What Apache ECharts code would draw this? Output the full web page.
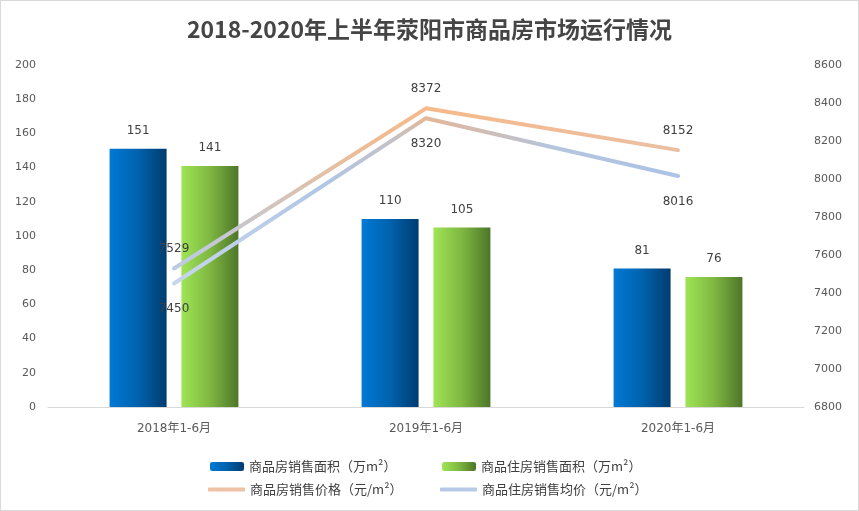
<!DOCTYPE html>
<html><head><meta charset="utf-8">
<script src="https://cdn.jsdelivr.net/npm/echarts@6/dist/echarts.min.js"></script>
<style>html,body{margin:0;padding:0;background:#fff}#c{width:859px;height:511px;box-sizing:border-box;border:1px solid #d9d9d9}</style>
</head><body><div id="c"></div>
<script>
var categories = ['2018年1-6月', '2019年1-6月', '2020年1-6月'];
var areaAll = [151, 110, 81];
var areaHouse = [141, 105, 76];
var priceAll = [7529, 8372, 8152];
var priceHouse = [7450, 8320, 8016];
var names = ['商品房销售面积（万m²）', '商品住房销售面积（万m²）', '商品房销售价格（元/m²）', '商品住房销售均价（元/m²）'];

var G = echarts.graphic.LinearGradient;
var numFont = 'DejaVu Sans';
var chart = echarts.init(document.getElementById('c'));
function leg(name, left, top, extra) {
  var o = {data: [name], left: left, top: top, itemWidth: 34, itemHeight: 9, itemGap: 5,
    textStyle: {fontFamily: 'Noto Sans CJK SC', fontSize: 13, color: '#404040'}};
  for (var k in extra) o[k] = extra[k];
  return o;
}
chart.setOption({
  animation: false,
  title: {text: '2018-2020年上半年荥阳市商品房市场运行情况', left: 'center', top: 12,
    textStyle: {fontFamily: 'Noto Sans CJK SC', fontWeight: 'bold', fontSize: 23, color: '#454545'}},
  legend: [
    leg(names[0], 204, 454, {}),
    leg(names[1], 436, 454, {}),
    leg(names[2], 202, 477, {icon: 'roundRect', itemWidth: 37, itemHeight: 4,
      data: [{name: names[2], itemStyle: {color: '#efc2a6'}}]}),
    leg(names[3], 434, 477, {icon: 'roundRect', itemWidth: 37, itemHeight: 4,
      data: [{name: names[3], itemStyle: {color: '#b6c9e6'}}]})
  ],
  grid: {left: 47, right: 54, top: 64, bottom: 103},
  xAxis: {type: 'category', data: categories,
    axisLine: {lineStyle: {color: '#d9d9d9'}}, axisTick: {show: false},
    axisLabel: {margin: 16, fontFamily: 'DejaVu Sans, Noto Sans CJK SC', fontSize: 12, color: '#595959'}},
  yAxis: [
    {type: 'value', min: 0, max: 200, interval: 20, splitLine: {show: false},
      axisLine: {show: false}, axisTick: {show: false},
      axisLabel: {margin: 12, fontFamily: numFont, fontSize: 11, color: '#595959'}},
    {type: 'value', min: 6800, max: 8600, interval: 200, splitLine: {show: false},
      axisLine: {show: false}, axisTick: {show: false},
      axisLabel: {margin: 10, fontFamily: numFont, fontSize: 11, color: '#595959',
        formatter: function (v) { return String(v); }}}
  ],
  series: [
    {name: names[0], type: 'bar', data: areaAll, barWidth: 57, barGap: '26%',
      itemStyle: {color: new G(0, 0, 1, 0, [{offset: 0, color: '#0079d6'}, {offset: 0.5, color: '#0062ad'}, {offset: 1, color: '#003c70'}])},
      label: {show: true, position: 'top', distance: 12, fontFamily: numFont, fontSize: 12, color: '#404040'}},
    {name: names[1], type: 'bar', data: areaHouse, barWidth: 57,
      itemStyle: {color: new G(0, 0, 1, 0, [{offset: 0, color: '#9fe455'}, {offset: 0.5, color: '#7fb841'}, {offset: 1, color: '#4d7629'}])},
      label: {show: true, position: 'top', distance: 12, fontFamily: numFont, fontSize: 12, color: '#404040'}},
    {name: names[2], type: 'line', yAxisIndex: 1, data: priceAll, symbol: 'circle', symbolSize: 1, showSymbol: true, z: 5,
      lineStyle: {width: 4, cap: 'round', join: 'round', color: new G(0, 0, 1, 0, [
        {offset: 0, color: '#bccbe4'}, {offset: 0.15, color: '#c9c6cb'}, {offset: 0.35, color: '#ebbd9a'},
        {offset: 0.5, color: '#f6b98a'}, {offset: 1, color: '#ebbfa3'}])},
      itemStyle: {color: 'rgba(0,0,0,0)', borderWidth: 0},
      label: {show: true, position: 'top', distance: 13, fontFamily: numFont, fontSize: 12, color: '#404040'}},
    {name: names[3], type: 'line', yAxisIndex: 1, data: priceHouse, symbol: 'circle', symbolSize: 1, showSymbol: true, z: 5,
      lineStyle: {width: 4, cap: 'round', join: 'round', color: new G(0, 0, 1, 0, [
        {offset: 0, color: '#c8d6ec'}, {offset: 0.3, color: '#b0c6e6'}, {offset: 0.44, color: '#c6c0c4'},
        {offset: 0.5, color: '#e3b898'}, {offset: 0.6, color: '#d2bcb0'}, {offset: 0.75, color: '#b5c5de'}, {offset: 1, color: '#abc3e6'}])},
      itemStyle: {color: 'rgba(0,0,0,0)', borderWidth: 0},
      label: {show: true, position: 'bottom', distance: 19, fontFamily: numFont, fontSize: 12, color: '#404040'}}
  ]
});
</script></body></html>
